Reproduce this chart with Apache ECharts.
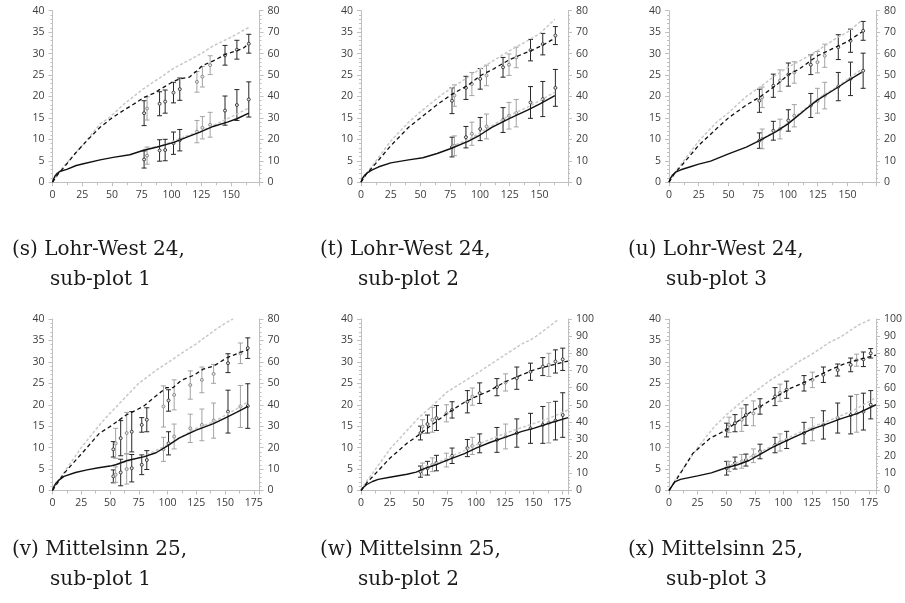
<!DOCTYPE html>
<html>
<head>
<meta charset="utf-8">
<script src="https://cdn.jsdelivr.net/npm/echarts@6/dist/echarts.min.js"></script>
<style>
  html, body { margin: 0; padding: 0; background: #fff; }
  #chart { width: 905px; height: 603px; }
</style>
</head>
<body>
<div id="chart"></div>
<script>
// ---- data (left-axis units) ----
const captions = [
    ["(s) Lohr-West 24,", "sub-plot 1"],
    ["(t) Lohr-West 24,", "sub-plot 2"],
    ["(u) Lohr-West 24,", "sub-plot 3"],
    ["(v) Mittelsinn 25,", "sub-plot 1"],
    ["(w) Mittelsinn 25,", "sub-plot 2"],
    ["(x) Mittelsinn 25,", "sub-plot 3"]
];
const rightMax = [80, 80, 80, 80, 100, 100];
const xMax = [174, 174, 174, 180, 180, 181];

// (s)
const sSolid = [[0,0],[1,0.8],[2,1.4],[4,2.1],[6,2.5],[12,3.0],[20,3.9],[26,4.3],[40,5.2],[51,5.8],[65,6.4],[76,7.4],[88,8.2],[102,9.3],[113,10.5],[124,11.7],[135,13],[147,14],[155,14.8],[165,16.1]];
const sDash = [[0,0],[5,2],[10,3.6],[20,7],[30,10],[40,12.8],[50,15],[60,16.8],[70,18.5],[77,19.8],[85,20.7],[90,21.6],[95,22.4],[101,23.4],[107,24.1],[115,24.5],[121,25.9],[126,27.2],[131,27.8],[136,28.4],[146,29.9],[155,30.7],[160,31.2],[165,32.3]];
const sGrayUp = [[0,0],[5,2],[10,3.9],[26,8.9],[40,13.6],[48,15.1],[60,18.2],[76,21.7],[90,24.3],[102,26.6],[115,28.5],[125,30],[135,31.8],[150,33.8],[165,36.1]];
const sGrayLow = [[76,7.6],[90,8.4],[100,9.4],[112,10.7],[124,11.8],[135,13.2],[150,15.2],[165,17.3]];
const sDays = [77, 79.5, 90, 94.7, 101.7, 107, 121.4, 126, 132.5, 145, 155, 165];
const sUpper = [[16.1,2.9],[17.2,2.7],[18.3,2.8],[18.8,2.7],[20.9,2.4],[21.7,2.6],[23.4,2.4],[24.6,2.4],[27.3,2.2],[29.6,2.3],[30.9,2.2],[32.3,2.2]];
const sLower = [[5.3,2.0],[6.2,2.0],[7.4,2.5],[7.5,2.5],[9.1,2.6],[9.8,2.5],[11.8,2.6],[12.7,2.6],[13.4,2.9],[16.7,3.4],[18.0,3.6],[19.3,4.1]];
const sGray = [0,1,0,0,0,0,1,1,1,0,0,0];

// (t)
const tSolid = [[0,0],[1,0.8],[3,1.6],[6,2.3],[9,2.8],[15,3.6],[25,4.5],[40,5.2],[52,5.7],[64,6.7],[75,7.8],[90,9.5],[100,11],[110,12.8],[125,14.9],[140,16.8],[150,18.2],[163,20.2]];
const tDash = [[0,0],[5,2.1],[10,3.6],[25,8.5],[40,12.8],[50,15],[65,18.3],[77,20.6],[90,22.6],[100,24.8],[112,26.5],[125,28.6],[135,29.8],[145,30.9],[155,32.3],[163,33.6]];
const tGrayUp = [[0,0],[5,2.2],[10,4],[25,9.6],[40,14],[50,16.4],[65,19.8],[75,21.8],[90,24.5],[100,26.4],[115,29],[125,30.7],[140,33],[150,34.6],[163,38]];
const tGrayLow = [[76,8.3],[90,9.9],[100,11.5],[112,13.5],[125,15.6],[140,17.5],[150,19],[163,21]];
const tDays = [76.5, 78.5, 88.2, 93.2, 100.2, 105.5, 119.4, 124.4, 130.5, 142.5, 152.8, 163.4];
const tUpper = [[19.0,3.0],[20.2,2.5],[22.0,2.7],[22.9,2.7],[24.1,2.4],[24.9,2.4],[26.8,2.3],[27.4,2.5],[29.1,2.4],[30.8,2.5],[32.2,2.5],[34.2,2.1]];
const tLower = [[8.2,2.3],[8.5,2.3],[10.5,2.5],[11.3,2.7],[12.4,2.7],[13.0,2.9],[14.5,2.9],[15.5,3.1],[16.1,3.2],[18.6,3.7],[19.4,4.1],[22.0,4.3]];
const tGray = [0,1,0,1,0,1,0,1,1,0,0,0];

// (u)
const uSolid = [[0,0],[1,0.8],[3,1.7],[6,2.4],[10,2.9],[18,3.6],[25,4.2],[35,4.9],[50,6.6],[65,8.2],[76,9.7],[90,11.8],[100,13.6],[115,17],[125,19.2],[140,21.8],[150,23.6],[162,25.6]];
const uDash = [[0,0],[5,2.2],[10,3.7],[25,8.6],[40,12.5],[50,15],[65,18],[76,19.8],[90,22.6],[100,25],[110,26.5],[125,29.5],[140,31.5],[150,32.8],[162,35]];
const uGrayUp = [[0,0],[5,2.3],[10,4.1],[25,9.6],[40,14],[50,16.2],[65,20],[76,22.1],[90,25],[100,26.8],[112,28.6],[125,30.7],[140,33.5],[150,35],[162,37.7]];
const uGrayLow = [[76,9.8],[90,11.9],[100,13.8],[112,16.6],[125,19.5],[140,22],[150,24],[162,26.3]];
const uDays = [76, 78.3, 87.7, 93.3, 100.3, 105.3, 119.2, 124.8, 130.9, 142.3, 152.6, 163.2];
const uUpper = [[19.0,2.7],[19.8,2.4],[22.5,2.7],[23.7,2.5],[25.1,2.7],[25.6,2.5],[27.4,2.3],[28.0,2.5],[29.5,2.7],[31.5,2.9],[33.0,2.7],[35.3,2.2]];
const uLower = [[9.7,1.8],[10.1,2.3],[12.0,2.2],[12.4,2.3],[14.4,2.5],[15.5,2.6],[17.9,2.8],[19.0,2.9],[20.2,3.1],[22.3,3.3],[24.1,3.9],[26.0,4.1]];
const uGray = [0,1,0,1,0,1,0,1,1,0,0,0];

// (v)
const vSolid = [[0,0],[1,0.8],[3,1.7],[5,2.3],[10,3.3],[20,4.2],[30,4.8],[40,5.3],[50,5.7],[55,6],[65,7],[80,7.9],[90,8.8],[100,10.4],[110,12.2],[125,14.1],[140,15.6],[150,16.9],[160,18.2],[170,19.6]];
const vDash = [[0,0],[5,2],[10,4],[27,9.1],[41,13.4],[50,14.9],[64,17.6],[79,19.6],[91,22.3],[99,24],[105,24],[112,25.7],[123,26.9],[131,28.3],[140,29],[152,31],[163,32.2],[170,32.8]];
const vGrayUp = [[0,0],[5,2.2],[10,4.2],[25,10],[40,15],[50,18],[65,22.2],[75,25],[90,28],[100,29.8],[115,32.5],[125,34.2],[140,37.2],[150,39],[157,40]];
const vGrayLow = [[53,5.8],[65,6.8],[80,8.1],[100,10.6],[112,12.5],[125,14.5],[140,16],[150,17.5],[160,19],[170,20.7]];
const vDays = [52.9, 54.9, 59.3, 64.5, 68.9, 77.6, 82, 96.5, 100.9, 105.8, 119.8, 129.9, 140.1, 152.6, 163.4, 169.8];
const vUpper = [[9.6,1.8],[11.0,3.5],[12.2,4.1],[13.4,4.8],[13.7,4.7],[15.3,1.7],[16.5,2.8],[19.6,4.8],[21.0,2.5],[22.3,3.5],[24.6,3.3],[25.8,3.0],[27.2,2.2],[29.7,2.2],[32.0,2.4],[33.2,2.4]];
const vLower = [[3.3,1.5],[3.7,1.8],[4.2,3.1],[5.0,3.5],[5.2,3.2],[6.0,2.3],[7.1,2.2],[9.6,2.8],[11.0,2.7],[12.6,2.9],[14.5,3.3],[15.3,3.7],[16.3,4.1],[18.4,5.0],[19.6,4.9],[19.7,5.2]];
const vGray = [0,1,0,1,0,0,0,1,0,1,1,1,1,0,1,0];

// (w)
const wSolid = [[0,0],[2,0.7],[5,1.4],[10,2.1],[15,2.6],[25,3.1],[40,3.8],[48,4.3],[55,5.1],[65,6],[75,7.1],[90,8.6],[100,9.9],[112,11.2],[125,12.4],[140,13.8],[150,14.5],[165,15.8],[180,17]];
const wDash = [[0,0],[5,1.8],[10,3.2],[25,7.5],[40,11],[52,13.3],[55,14],[65,16],[75,18],[90,20.6],[100,21.9],[112,23.3],[125,25.3],[140,27],[150,28.1],[165,29.2],[180,30.2]];
const wGrayUp = [[0,0],[5,2.2],[10,4],[25,9.6],[40,14],[50,16.9],[65,20.5],[75,23],[90,25.5],[100,27.2],[112,29.3],[125,31.6],[140,34.2],[150,35.5],[165,38.5],[172,40]];
const wGrayLow = [[52,5.4],[65,6.3],[75,7.6],[90,9.3],[100,10.6],[112,11.9],[125,13.3],[140,14.7],[150,15.6],[165,17],[180,18.8]];
const wDays = [51.7, 53.5, 57.8, 62.1, 65.6, 74.3, 79.2, 92.5, 96.8, 103.2, 118.2, 125.7, 135.5, 147.4, 158.1, 163.3, 169.1, 175.4];
const wUpper = [[13.4,1.6],[14.9,1.6],[15.5,2.1],[16.5,2.9],[16.9,2.9],[18.0,2.0],[18.8,1.9],[20.7,2.6],[21.9,2.0],[22.7,2.4],[24.1,2.0],[25.2,2.0],[26.2,2.6],[27.7,2.0],[28.9,2.1],[29.3,2.7],[30.1,2.7],[30.6,2.6]];
const wLower = [[4.4,1.3],[5.0,1.4],[5.2,1.6],[6.0,1.6],[6.4,1.8],[7.1,1.6],[8.1,1.8],[9.9,2.0],[10.4,2.0],[11.0,2.2],[11.8,2.9],[12.6,2.9],[13.4,3.3],[14.5,3.5],[15.3,4.3],[15.8,4.7],[16.3,4.5],[17.6,5.2]];
const wGray = [0,1,0,1,0,1,0,0,1,0,0,1,0,0,0,1,0,0];

// (x)
const xSolid = [[0,0],[2,0.8],[5,2],[10,2.6],[25,3.4],[37,4.1],[50,5.3],[60,6],[70,7],[80,8.5],[90,10],[100,11.3],[110,12.5],[125,14.3],[140,15.7],[150,16.7],[165,18],[181,20]];
const xDash = [[0,0],[5,2],[10,4],[21,8.7],[36,12.2],[50,14.1],[62,16.5],[74,18.8],[80,19.6],[94,21.9],[106,23.8],[120,25.4],[132,27],[144,28.5],[155,29.7],[167,30.6],[181,31.6]];
const xGrayUp = [[0,0],[5,2.3],[10,4.2],[25,10],[40,15],[50,17.6],[65,21],[75,23],[90,26],[100,27.6],[115,30.3],[125,31.8],[140,34.5],[150,35.8],[165,38.5],[177,40]];
const xGrayLow = [[50,5.6],[65,7],[75,8.4],[90,10.3],[100,11.7],[112,13.3],[125,14.8],[140,16.3],[150,17.4],[165,19.2],[181,21.7]];
const xDays = [50.4, 52.5, 57.7, 63.6, 67.3, 73.8, 79.6, 92.7, 97.1, 102.9, 118.1, 125.4, 135, 147.5, 158.9, 164.1, 170, 176.4];
const xUpper = [[14.1,1.6],[15.3,1.8],[15.7,2.0],[16.5,2.7],[17.6,2.4],[18.0,2.9],[19.6,1.8],[21.9,2.1],[22.8,2.0],[23.5,2.0],[25.0,1.8],[25.8,1.8],[27.0,1.8],[28.1,1.4],[29.3,1.6],[30.4,1.4],[30.6,1.7],[32.0,1.1]];
const xLower = [[5.2,1.6],[5.6,1.2],[6.4,1.4],[6.8,1.6],[7.1,1.4],[8.1,1.6],[9.1,1.7],[10.6,1.8],[11.2,2.0],[11.8,2.0],[13.4,2.5],[14.3,2.7],[15.3,3.3],[16.9,3.5],[17.6,4.4],[18.0,4.4],[18.4,4.3],[20.0,3.3]];
const xGray = [0,1,0,1,0,1,0,0,1,0,0,1,0,0,0,1,0,0];

const panelData = [
    [sSolid, sDash, sGrayUp, sGrayLow, sDays, sUpper, sLower, sGray],
    [tSolid, tDash, tGrayUp, tGrayLow, tDays, tUpper, tLower, tGray],
    [uSolid, uDash, uGrayUp, uGrayLow, uDays, uUpper, uLower, uGray],
    [vSolid, vDash, vGrayUp, vGrayLow, vDays, vUpper, vLower, vGray],
    [wSolid, wDash, wGrayUp, wGrayLow, wDays, wUpper, wLower, wGray],
    [xSolid, xDash, xGrayUp, xGrayLow, xDays, xUpper, xLower, xGray]
];

// ---- layout ----
const colLeft = [52.5, 361, 669];
const rowTop = [10.7, 319];
const plotW = 207;
const plotH = 171.5;
const capLeft = [12, 320, 628];
const capTop = [[240, 270], [539.5, 569.5]];

const axisGray = "#bfbfbf";
const labelColor = "#3c3c3c";
const labelFont = { fontFamily: "Open Sans", fontSize: 10.5, color: labelColor };

function errorBars(params, api)
{
    const x = api.value(0);
    const lo = api.coord([x, api.value(1)]);
    const hi = api.coord([x, api.value(2)]);
    const mid = api.coord([x, api.value(3)]);
    const isGray = api.value(4);
    const col = isGray ? "#a3a3a3" : "#262626";
    const cap = 2.5;
    const st = { stroke: col, lineWidth: 1 };
    return {
        type: "group",
        children: [
            { type: "line", shape: { x1: lo[0], y1: lo[1], x2: hi[0], y2: hi[1] }, style: st },
            { type: "line", shape: { x1: lo[0] - cap, y1: lo[1], x2: lo[0] + cap, y2: lo[1] }, style: st },
            { type: "line", shape: { x1: hi[0] - cap, y1: hi[1], x2: hi[0] + cap, y2: hi[1] }, style: st },
            { type: "circle", shape: { cx: mid[0], cy: mid[1], r: 1.5 },
              style: { fill: "#e6e6e6", stroke: isGray ? "#8c8c8c" : "#404040", lineWidth: 1 } }
        ]
    };
}

const grids = [], xAxes = [], yAxes = [], series = [], graphics = [];

panelData.forEach((p, i) => {
    const row = Math.floor(i / 3), col = i % 3;
    const [solid, dash, grayUp, grayLow, days, upper, lower, gray] = p;

    grids.push({ left: colLeft[col], top: rowTop[row], width: plotW, height: plotH });

    xAxes.push({
        type: "value", gridIndex: i, min: 0, max: xMax[i], interval: 25,
        axisLine: { show: true, lineStyle: { color: axisGray } },
        axisTick: { show: true, length: 4, lineStyle: { color: axisGray } },
        minorTick: { show: true, splitNumber: 2, length: 3, lineStyle: { color: axisGray } },
        splitLine: { show: false },
        axisLabel: Object.assign({ margin: 7, formatter: v => (v % 25 === 0 ? v : "") }, labelFont)
    });

    yAxes.push({
        type: "value", gridIndex: i, position: "left", min: 0, max: 40, interval: 5,
        axisLine: { show: true, lineStyle: { color: axisGray } },
        axisTick: { show: true, length: 4, lineStyle: { color: axisGray } },
        minorTick: { show: true, splitNumber: 5, length: 2, lineStyle: { color: axisGray } },
        splitLine: { show: false },
        axisLabel: Object.assign({ margin: 8 }, labelFont)
    });
    yAxes.push({
        type: "value", gridIndex: i, position: "right", min: 0, max: rightMax[i], interval: 10,
        axisLine: { show: true, lineStyle: { color: axisGray } },
        axisTick: { show: true, length: 4, lineStyle: { color: axisGray } },
        minorTick: { show: true, splitNumber: 5, length: 2, lineStyle: { color: axisGray } },
        splitLine: { show: false },
        axisLabel: Object.assign({ margin: 8 }, labelFont)
    });

    const yi = i * 2;
    const line = (data, color, type, width) => ({
        type: "line", xAxisIndex: i, yAxisIndex: yi, data: data, showSymbol: false, symbol: "none",
        smooth: false, silent: true, animation: false, clip: true,
        lineStyle: { color: color, type: type, width: width }
    });
    series.push(line(grayUp, "#c8c8c8", [3, 2], 1.5));
    series.push(line(grayLow, "#c8c8c8", [3, 2], 1.5));
    series.push(line(dash, "#111", [4, 3], 1.3));
    series.push(line(solid, "#111", "solid", 1.4));

    const bars = [];
    days.forEach((d, k) => {
        bars.push([d, upper[k][0] - upper[k][1], upper[k][0] + upper[k][1], upper[k][0], gray[k]]);
        bars.push([d, lower[k][0] - lower[k][1], lower[k][0] + lower[k][1], lower[k][0], gray[k]]);
    });
    series.push({
        type: "custom", xAxisIndex: i, yAxisIndex: yi, renderItem: errorBars,
        data: bars, silent: true, animation: false, encode: { x: 0, y: [1, 2, 3] }
    });

    const capStyle = { fontFamily: "DejaVu Serif", fontSize: 20, fill: "#1a1a1a", verticalAlign: "top" };
    graphics.push({ type: "text", left: capLeft[col], top: capTop[row][0],
        style: Object.assign({ text: captions[i][0] }, capStyle) });
    graphics.push({ type: "text", left: capLeft[col] + 38, top: capTop[row][1],
        style: Object.assign({ text: captions[i][1] }, capStyle) });
});

const chart = echarts.init(document.getElementById("chart"), null, { renderer: "canvas" });
chart.setOption({
    animation: false,
    backgroundColor: "#fff",
    grid: grids,
    xAxis: xAxes,
    yAxis: yAxes,
    series: series,
    graphic: graphics
});
</script>
</body>
</html>
